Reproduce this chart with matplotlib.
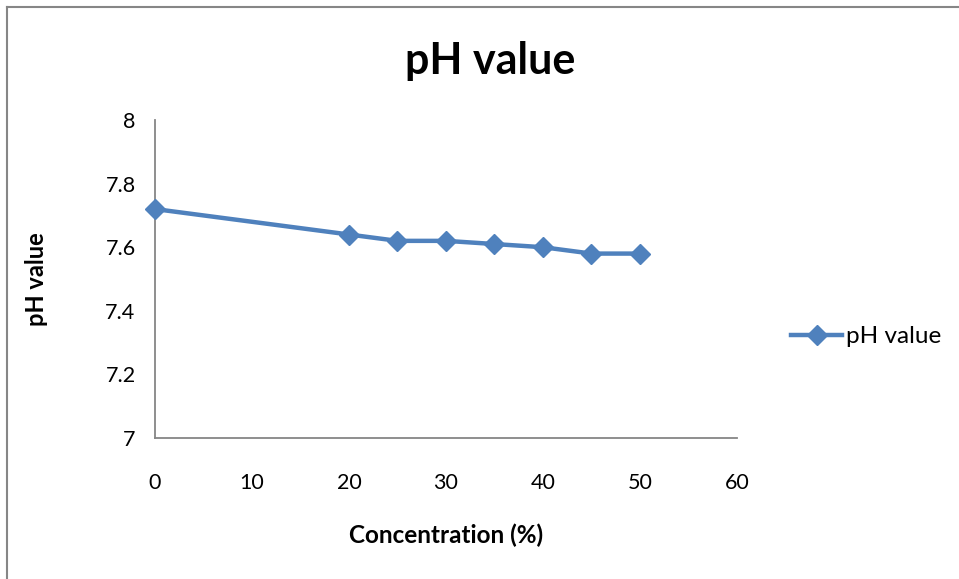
import matplotlib
matplotlib.use("Agg")
import matplotlib.pyplot as plt
from matplotlib.lines import Line2D

plt.rcParams["font.family"] = ["Lato", "DejaVu Sans"]

# concentration (%) vs measured pH
concentration = [0, 20, 25, 30, 35, 40, 45, 50]
ph_value = [7.72, 7.64, 7.62, 7.62, 7.61, 7.60, 7.58, 7.58]
x_ticks = [0, 10, 20, 30, 40, 50, 60]
y_ticks = [7, 7.2, 7.4, 7.6, 7.8, 8]
y_tick_labels = ["7", "7.2", "7.4", "7.6", "7.8", "8"]

BLUE = "#4F81BD"
AXIS = "#868686"

fig = plt.figure(figsize=(9.59, 5.79), dpi=100)
ax = fig.add_axes([0.1616, 0.2435, 0.6069, 0.5492])

ax.plot(concentration, ph_value, color=BLUE, linewidth=3.2, marker="D",
        markersize=10.5, markerfacecolor=BLUE, markeredgecolor=BLUE,
        clip_on=False, zorder=3, label="pH value")

ax.set_xlim(0, 60)
ax.set_ylim(7, 8)
ax.set_xticks(x_ticks)
ax.set_yticks(y_ticks)
ax.set_yticklabels(y_tick_labels)
ax.tick_params(length=0, labelsize=15.5, colors="black")
ax.tick_params(axis="x", pad=25)
ax.tick_params(axis="y", pad=14)

for side in ("top", "right"):
    ax.spines[side].set_visible(False)
for side in ("left", "bottom"):
    ax.spines[side].set_color(AXIS)
    ax.spines[side].set_linewidth(1.3)

ax.set_xlabel("Concentration (%)", fontsize=17.5, fontweight="bold", labelpad=22)
ax.set_ylabel("pH value", fontsize=17, fontweight="bold", labelpad=41)

fig.text(0.511, 0.895, "pH value", fontsize=31, fontweight="bold",
         ha="center", va="center")

# legend entry on the right
handle = Line2D([], [], color=BLUE, linewidth=3.2, marker="D", markersize=10.5)
fig.legend(handles=[handle], labels=["pH value"], loc="center left",
           bbox_to_anchor=(0.825, 0.418), frameon=False, fontsize=17.5,
           handlelength=2.1, handletextpad=0.15, borderpad=0, borderaxespad=0)

# chart frame (left and top edges)
fig.add_artist(Line2D([0.0068, 0.0068], [0, 0.988], color=AXIS, linewidth=1.5,
                      transform=fig.transFigure))
fig.add_artist(Line2D([0.0068, 1.0], [0.988, 0.988], color=AXIS, linewidth=1.5,
                      transform=fig.transFigure))

fig.savefig("out.png", dpi=100)
